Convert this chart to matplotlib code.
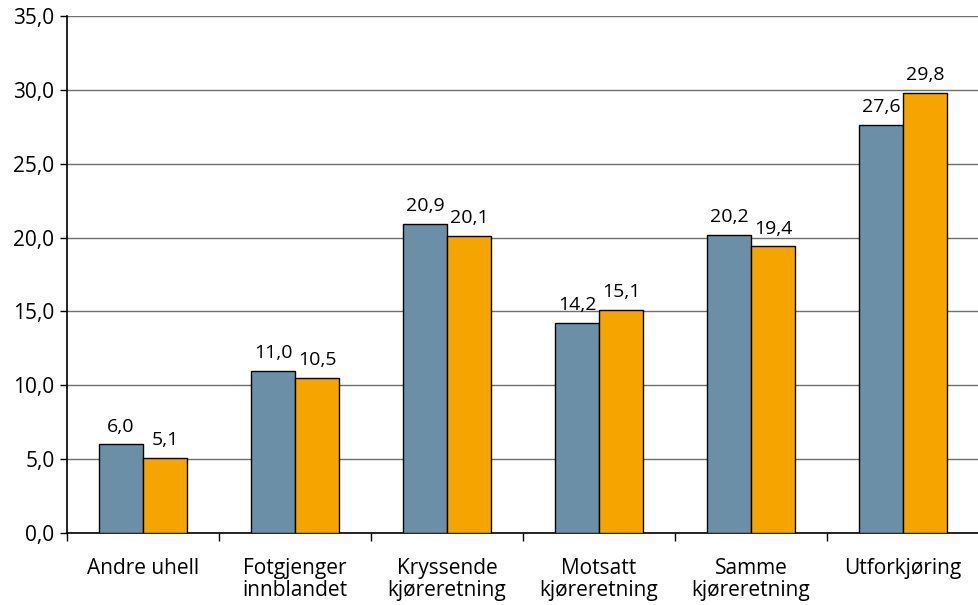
import matplotlib.pyplot as plt
import numpy as np

categories = ["Andre uhell", "Fotgjenger\ninnblandet", "Kryssende\nkjøreretning",
              "Motsatt\nkjøreretning", "Samme\nkjøreretning", "Utforkjøring"]
series_a = [6.0, 11.0, 20.9, 14.2, 20.2, 27.6]
series_b = [5.1, 10.5, 20.1, 15.1, 19.4, 29.8]
yticks = [0, 5, 10, 15, 20, 25, 30, 35]

BLUE = "#6b8fa6"
ORANGE = "#f5a400"
FS = 15

plt.rcParams["font.family"] = ["Open Sans", "DejaVu Sans"]

fig = plt.figure(figsize=(9.79, 6.05), dpi=100)
ax = fig.add_axes([67 / 979, 1 - 533 / 605, 1 - 67 / 979, (533 - 16) / 605])

x = np.arange(len(categories))
w = 0.29
bars_a = ax.bar(x - w / 2, series_a, w, color=BLUE, edgecolor="black", linewidth=1.0, zorder=3)
bars_b = ax.bar(x + w / 2, series_b, w, color=ORANGE, edgecolor="black", linewidth=1.0, zorder=3)

for bars, vals in ((bars_a, series_a), (bars_b, series_b)):
    for b, v in zip(bars, vals):
        ax.text(b.get_x() + b.get_width() / 2, v + 0.6, f"{v:.1f}".replace(".", ","),
                ha="center", va="bottom", fontsize=14)

ax.set_xlim(-0.5, len(categories) - 0.5)
ax.set_ylim(0, 35)
ax.set_yticks(yticks)
ax.set_yticklabels([f"{t:.1f}".replace(".", ",") for t in yticks], fontsize=FS)
ax.yaxis.grid(True, color="#6e6e6e", lw=1.0, zorder=0)
ax.set_axisbelow(True)

ax.set_xticks(x)
ax.set_xticklabels(categories, fontsize=FS, linespacing=1.05)
ax.tick_params(axis="x", length=0, pad=18)
ax.set_xticks(np.arange(len(categories) + 1) - 0.5, minor=True)
ax.tick_params(axis="x", which="minor", length=6, width=1, color="black")
ax.tick_params(axis="y", length=5, width=1, color="black", pad=4)

for s in ("top", "right"):
    ax.spines[s].set_visible(False)
ax.spines["left"].set_linewidth(1.2)
ax.spines["bottom"].set_linewidth(1.2)

fig.savefig("out.png", dpi=100)
